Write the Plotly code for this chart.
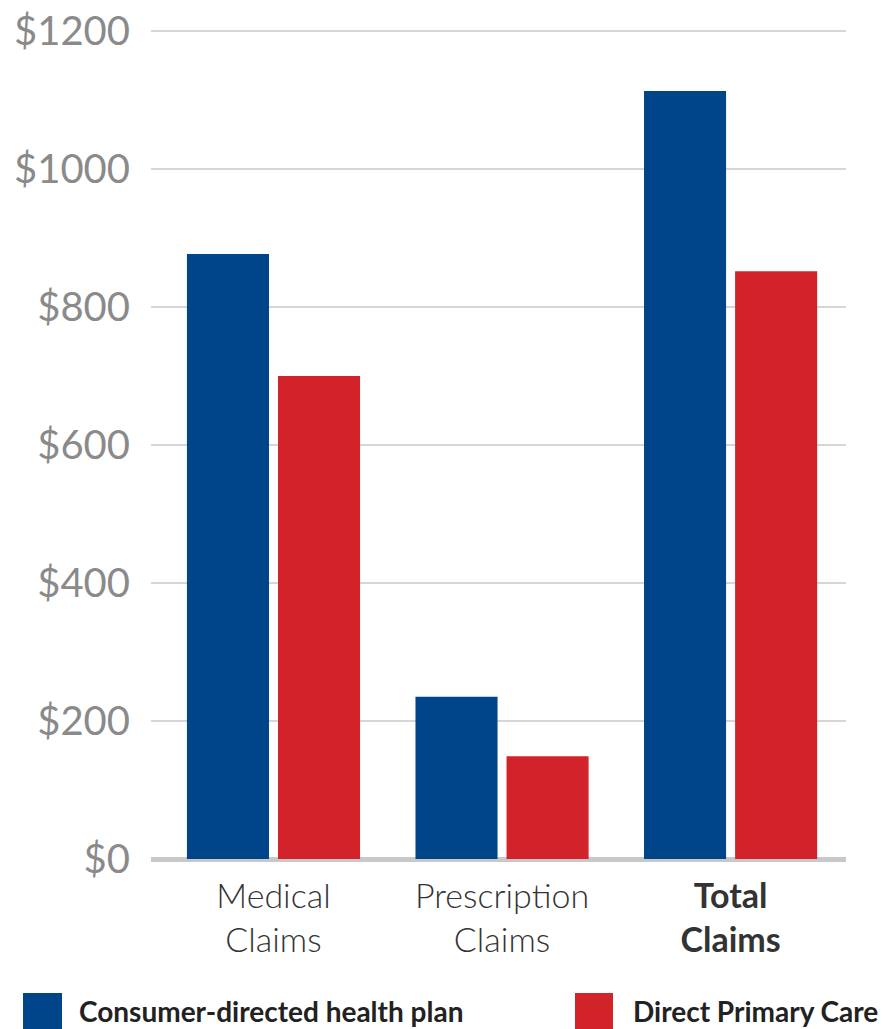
import plotly.graph_objects as go

categories = ["Medical Claims", "Prescription Claims", "Total Claims"]
tick_text = ["Medical<br>Claims", "Prescription<br>Claims", "<b>Total</b><br><b>Claims</b>"]
series_names = ["Consumer-directed health plan", "Direct Primary Care"]
cdhp_values = [877, 235, 1113]
dpc_values = [700, 149, 852]
colors = ["#00458A", "#D2232A"]
y_ticks = [0, 200, 400, 600, 800, 1000, 1200]
y_tick_labels = ["$0", "$200", "$400", "$600", "$800", "$1000", "$1200"]

W, H = 882, 1029
L, T = 151, 30
R = W - 846
B = H - 859
pw, ph = W - L - R, H - T - B

fig = go.Figure()
for name, vals, col in zip(series_names, [cdhp_values, dpc_values], colors):
    fig.add_trace(go.Bar(x=categories, y=vals, name=name, marker=dict(color=col, line=dict(width=0)),
                         showlegend=False))

def px(x):
    return (x - L) / pw

def py(y):
    return (H - B - y) / ph

# manual legend (large square swatches)
legend_items = [(23, 62, 77), (575, 613, 631)]
for (x0, x1, tx), name, col in zip(legend_items, series_names, colors):
    fig.add_shape(type="rect", xref="paper", yref="paper", x0=px(x0), x1=px(x1),
                  y0=py(993), y1=py(1045), fillcolor=col, line=dict(width=0), layer="above")
    fig.add_annotation(text=f"<b>{name}</b>", xref="paper", yref="paper", x=px(tx), y=py(1011),
                       xanchor="left", yanchor="middle", showarrow=False,
                       font=dict(family="Lato", size=28, color="#222222", weight=900))

fig.update_layout(
    width=W, height=H,
    margin=dict(l=L, r=R, t=T, b=B, autoexpand=False),
    paper_bgcolor="white", plot_bgcolor="white",
    barmode="group", bargap=0.203, bargroupgap=0.099,
    xaxis=dict(range=[-0.536, 2.505], tickvals=categories, ticktext=tick_text,
               showgrid=False, showline=False, ticks="", ticklabelstandoff=14, automargin=False,
               tickfont=dict(family="Lato", size=34, color="#333333", weight=300)),
    yaxis=dict(range=[0, 1201.5], tickvals=y_ticks, ticktext=y_tick_labels,
               showgrid=True, gridcolor="#d6d6d6", gridwidth=2,
               zeroline=True, zerolinecolor="#c8c8c8", zerolinewidth=5, automargin=False,
               showline=False, ticks="", ticklabelstandoff=20, ticklabeloverflow="allow",
               tickfont=dict(family="Lato", size=40, color="#8a8a8a")),
)

fig.write_html("out.html", config={"displayModeBar": False},
               post_script="document.body.style.margin='0';document.body.style.overflow='hidden';")
